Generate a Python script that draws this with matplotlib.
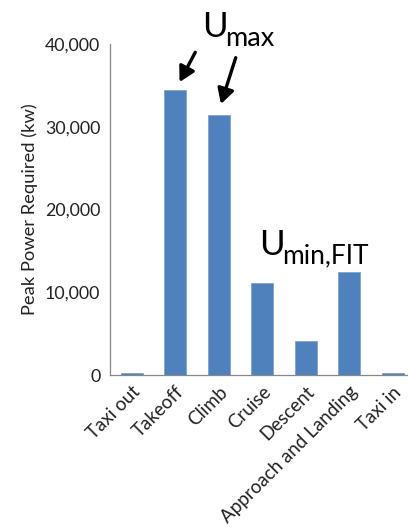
import matplotlib
matplotlib.use("Agg")
import matplotlib.pyplot as plt
import numpy as np

phases = ["Taxi out", "Takeoff", "Climb", "Cruise", "Descent",
          "Approach and Landing", "Taxi in"]
peak_power_kw = [250, 34400, 31450, 11100, 4150, 12450, 250]
y_ticks = [0, 10000, 20000, 30000, 40000]

plt.rcParams["font.family"] = ["Lato", "DejaVu Sans"]

W, H = 408, 530
fig = plt.figure(figsize=(W / 100, H / 100), dpi=100)
ax = fig.add_axes([110 / W, 1 - 375 / H, 304.5 / W, 331 / H])

x = np.arange(len(phases))
ax.bar(x, peak_power_kw, width=0.5, color="#4f81bd", edgecolor="#7fa3d0",
       linewidth=0.6)

ax.set_xlim(-0.5, len(phases) - 0.5)
ax.set_ylim(0, 40000)
ax.set_yticks(y_ticks)
ax.set_yticklabels([f"{v:,}" for v in y_ticks], fontsize=12.8, color="#222222")
ax.set_xticks(x)
ax.set_xticklabels(phases, rotation=45, ha="right", rotation_mode="anchor",
                   fontsize=13.5, color="#222222")
ax.tick_params(axis="y", length=0, pad=7)
ax.tick_params(axis="x", length=0, pad=6)
ax.set_ylabel("Peak Power Required (kw)", fontsize=13.2, color="#222222",
              labelpad=5)

for side in ("top", "right"):
    ax.spines[side].set_visible(False)
for side in ("left", "bottom"):
    ax.spines[side].set_color("#888888")
    ax.spines[side].set_linewidth(0.9)

# U_max annotation with arrows to takeoff and climb
arrow = dict(arrowstyle="-|>,head_length=0.9,head_width=0.5",
             color="black", lw=2.4, shrinkA=0, shrinkB=0)
ax.annotate("", xy=(1.1, peak_power_kw[1] + 1000),
            xytext=(1.46, peak_power_kw[1] + 4600), arrowprops=arrow)
ax.annotate("", xy=(2.05, peak_power_kw[2] + 1300),
            xytext=(2.39, peak_power_kw[2] + 6900), arrowprops=arrow)

u1 = fig.text(202 / W, 1 - 37 / H, "U", fontsize=25, va="baseline")
ax.annotate("max", xy=(1, 0), xycoords=u1, xytext=(-1.5, -2),
            textcoords="offset points", fontsize=19.5, va="baseline")

u2 = fig.text(259 / W, 1 - 255 / H, "U", fontsize=25, va="baseline")
ax.annotate("min,FIT", xy=(1, 0), xycoords=u2, xytext=(-1.5, -2),
            textcoords="offset points", fontsize=19, va="baseline")

fig.savefig("out.png", dpi=100)
